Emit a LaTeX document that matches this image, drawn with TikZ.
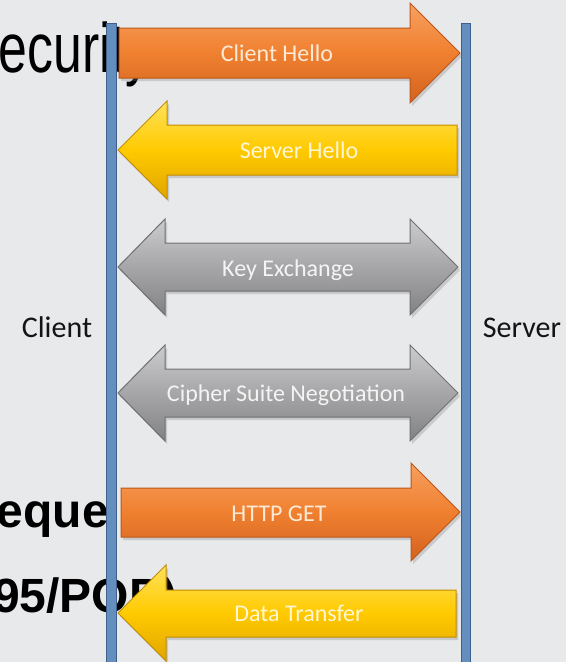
\documentclass[tikz,border=0pt]{standalone}
\usepackage{fontspec}
\setmainfont{Carlito}
\newfontfamily\slidefont[FakeStretch=0.74]{Liberation Sans}
\newfontfamily\slidebold{Liberation Sans}
\usepackage{xcolor}
\usetikzlibrary{shadows}

\definecolor{paper}{RGB}{231,233,235}
\definecolor{lifeblue}{RGB}{100,142,190}
\definecolor{lifeedge}{RGB}{62,96,140}
\definecolor{orangemain}{RGB}{240,128,48}
\definecolor{orangetop}{RGB}{247,160,96}
\definecolor{orangebottom}{RGB}{210,98,30}
\definecolor{orangeedge}{RGB}{190,86,24}
\definecolor{orangetext}{RGB}{252,234,214}
\definecolor{yellowmain}{RGB}{255,202,0}
\definecolor{yellowtop}{RGB}{255,226,90}
\definecolor{yellowbottom}{RGB}{225,165,0}
\definecolor{yellowedge}{RGB}{196,140,0}
\definecolor{yellowtext}{RGB}{255,246,214}
\definecolor{greymain}{RGB}{166,166,168}
\definecolor{greytop}{RGB}{204,204,206}
\definecolor{greybottom}{RGB}{130,130,132}
\definecolor{greyedge}{RGB}{112,112,114}
\definecolor{greytext}{RGB}{244,244,244}
\definecolor{inkblack}{RGB}{20,20,20}

\begin{document}
\begin{tikzpicture}[x=1pt, y=-1pt,
  lifeline/.style={fill=lifeblue, draw=lifeedge, line width=1pt},
  arrowshadow/.style={drop shadow={shadow xshift=2pt, shadow yshift=-3pt, opacity=0.3}},
  orangearrow/.style={arrowshadow, draw=orangeedge, line width=1pt, top color=orangetop, bottom color=orangebottom, middle color=orangemain},
  yellowarrow/.style={arrowshadow, draw=yellowedge, line width=1pt, top color=yellowtop, bottom color=yellowbottom, middle color=yellowmain},
  greyarrow/.style={arrowshadow, draw=greyedge, line width=1pt, top color=greytop, bottom color=greybottom, middle color=greymain},
  msglabel/.style={anchor=base, inner sep=0pt, font=\fontsize{24}{28}\selectfont},
  sidelabel/.style={anchor=base, inner sep=0pt, text=inkblack, font=\fontsize{30}{34}\selectfont},
  slidetext/.style={anchor=base west, inner sep=0pt, text=black}]
  \clip (0,0) rectangle (566,662);
  \fill[paper] (0,0) rectangle (566,662);

  % slide text under the diagram
  \node[slidetext, font=\slidefont\fontsize{70}{76}\selectfont] (title) at (-36,72) {Security};
  \node[slidetext, font=\slidebold\bfseries\fontsize{48}{52}\selectfont] (request) at (-38,527) {Reque};
  \node[slidetext, font=\slidebold\bfseries\fontsize{48}{52}\selectfont] (pop) at (-7,612) {95/POP)};

  % lifelines
  \draw[lifeline] (106,23) rectangle (116,670);
  \draw[lifeline] (461,23) rectangle (470,670);
  \node[sidelabel] (client) at (57,337) {Client};
  \node[sidelabel] (server) at (522,337) {Server};

  % messages
  \draw[orangearrow] (119,28) -- (410,28) -- (410,3) -- (460,53) -- (410,103) -- (410,78) -- (119,78) -- cycle;
  \node[msglabel, text=orangetext] (clienthello) at (277,61) {Client Hello};

  \draw[yellowarrow] (457,125) -- (167,125) -- (167,101) -- (118,150) -- (167,199) -- (167,175) -- (457,175) -- cycle;
  \node[msglabel, text=yellowtext] (serverhello) at (299,158) {Server Hello};

  \draw[greyarrow] (118,267) -- (165,219) -- (165,243) -- (410,243) -- (410,219) -- (458,267) -- (410,315) -- (410,291) -- (165,291) -- (165,315) -- cycle;
  \node[msglabel, text=greytext] (keyexchange) at (288,276) {Key Exchange};

  \draw[greyarrow] (118,393) -- (165,345) -- (165,369) -- (410,369) -- (410,345) -- (458,393) -- (410,441) -- (410,417) -- (165,417) -- (165,441) -- cycle;
  \node[msglabel, text=greytext] (cipher) at (286,401) {Cipher Suite Negotiation};

  \draw[orangearrow] (121,488) -- (411,488) -- (411,463) -- (460,512) -- (411,561) -- (411,537) -- (121,537) -- cycle;
  \node[msglabel, text=orangetext] (httpget) at (279,521) {HTTP GET};

  \draw[yellowarrow] (456,590) -- (166,590) -- (166,565) -- (118,613) -- (166,661) -- (166,637) -- (456,637) -- cycle;
  \node[msglabel, text=yellowtext] (datatransfer) at (299,621) {Data Transfer};
\end{tikzpicture}
\end{document}
